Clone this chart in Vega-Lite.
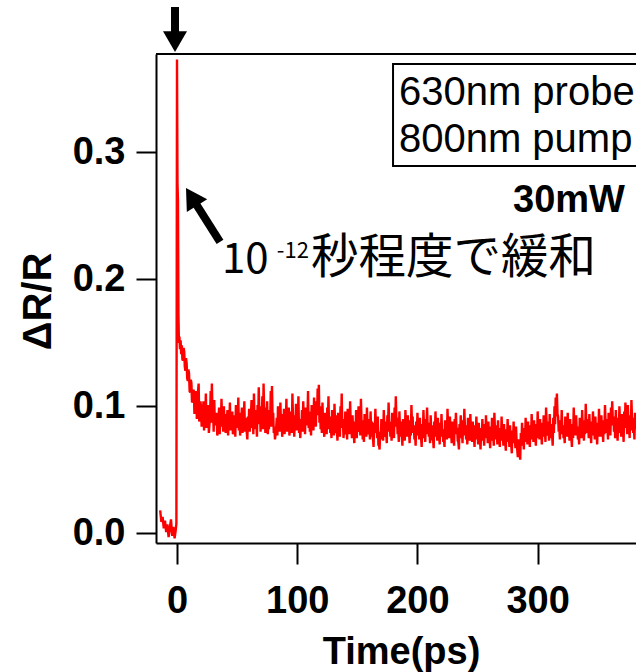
{
"$schema": "https://vega.github.io/schema/vega-lite/v6.json",
"width": 480, "height": 489,
"autosize": {"type": "none"},
"padding": {"left": 156, "top": 54, "right": 0, "bottom": 129},
"background": "white",
"config": {
 "view": {"stroke": null},
 "axis": {"domainColor": "black", "domainWidth": 2, "tickColor": "black", "tickWidth": 2, "grid": false,
  "labelColor": "black", "labelFont": "Liberation Sans", "labelFontWeight": "bold", "labelFontSize": 38,
  "titleColor": "black", "titleFont": "Liberation Sans", "titleFontWeight": "bold", "titleFontSize": 38}
},
"data": {"values": [
{"t":-14,"r":0.018},{"t":-13,"r":0.009},{"t":-12,"r":0.013},{"t":-11,"r":0.004},{"t":-10,"r":0.010},{"t":-9,"r":0.001},{"t":-8,"r":0.007},{"t":-7,"r":-0.003},{"t":-6,"r":0.004},{"t":-5,"r":0.011},{"t":-4,"r":-0.002},{"t":-3,"r":0.005},{"t":-2,"r":-0.004},{"t":-1,"r":0.003},{"t":-0.5,"r":0.008},
{"t":0,"r":0.373},{"t":0.4,"r":0.276},{"t":0.8,"r":0.262},{"t":1.2,"r":0.172},{"t":1.6,"r":0.150},{"t":2,"r":0.155},{"t":2.5,"r":0.145},{"t":3,"r":0.152},{"t":3.5,"r":0.141},{"t":4,"r":0.148},{"t":4.5,"r":0.137},{"t":5,"r":0.136},{"t":5.5,"r":0.146},{"t":6,"r":0.143},{"t":6.5,"r":0.131},{"t":7,"r":0.128},{"t":7.5,"r":0.138},{"t":8,"r":0.134},{"t":8.5,"r":0.122},{"t":9,"r":0.120},{"t":9.5,"r":0.129},{"t":10,"r":0.126},{"t":10.5,"r":0.112},{"t":11,"r":0.111},{"t":11.5,"r":0.121},{"t":12,"r":0.118},{"t":12.5,"r":0.103},{"t":13,"r":0.104},{"t":13.5,"r":0.113},{"t":14,"r":0.112},{"t":14.5,"r":0.094},{"t":15,"r":0.104},{"t":15.5,"r":0.108},{"t":16,"r":0.112},{"t":16.5,"r":0.090},{"t":17,"r":0.098},{"t":17.5,"r":0.112},{"t":18,"r":0.118},{"t":18.5,"r":0.088},{"t":19,"r":0.095},{"t":19.5,"r":0.104},
{"t":20,"r":0.099},{"t":21,"r":0.091},{"t":22,"r":0.104},{"t":23,"r":0.096},{"t":24,"r":0.110},{"t":25,"r":0.093},{"t":26,"r":0.101},{"t":27,"r":0.086},{"t":28,"r":0.112},{"t":29,"r":0.118},
{"t":30,"r":0.097},{"t":31,"r":0.105},{"t":32,"r":0.088},{"t":33,"r":0.095},{"t":34,"r":0.083},{"t":35,"r":0.099},{"t":36,"r":0.092},{"t":37,"r":0.106},{"t":38,"r":0.089},{"t":39,"r":0.100},
{"t":40,"r":0.094},{"t":41,"r":0.085},{"t":42,"r":0.097},{"t":43,"r":0.090},{"t":44,"r":0.103},{"t":45,"r":0.087},{"t":46,"r":0.096},{"t":47,"r":0.082},{"t":48,"r":0.093},{"t":49,"r":0.101},
{"t":50,"r":0.088},{"t":51,"r":0.107},{"t":52,"r":0.095},{"t":53,"r":0.084},{"t":54,"r":0.099},{"t":55,"r":0.091},{"t":56,"r":0.104},{"t":57,"r":0.086},{"t":58,"r":0.080},{"t":59,"r":0.092},
{"t":60,"r":0.098},{"t":61,"r":0.089},{"t":62,"r":0.105},{"t":63,"r":0.094},{"t":64,"r":0.110},{"t":65,"r":0.097},{"t":66,"r":0.088},{"t":67,"r":0.101},{"t":68,"r":0.115},{"t":69,"r":0.100},
{"t":70,"r":0.093},{"t":71,"r":0.108},{"t":72,"r":0.118},{"t":73,"r":0.099},{"t":74,"r":0.090},{"t":75,"r":0.104},{"t":76,"r":0.086},{"t":77,"r":0.097},{"t":78,"r":0.112},{"t":79,"r":0.116},
{"t":80,"r":0.095},{"t":81,"r":0.084},{"t":82,"r":0.078},{"t":83,"r":0.091},{"t":84,"r":0.100},{"t":85,"r":0.088},{"t":86,"r":0.103},{"t":87,"r":0.094},{"t":88,"r":0.085},{"t":89,"r":0.098},
{"t":90,"r":0.092},{"t":91,"r":0.106},{"t":92,"r":0.089},{"t":93,"r":0.099},{"t":94,"r":0.084},{"t":95,"r":0.096},{"t":96,"r":0.110},{"t":97,"r":0.093},{"t":98,"r":0.087},{"t":99,"r":0.102},
{"t":100,"r":0.095},{"t":101,"r":0.108},{"t":102,"r":0.090},{"t":103,"r":0.083},{"t":104,"r":0.097},{"t":105,"r":0.104},{"t":106,"r":0.088},{"t":107,"r":0.099},{"t":108,"r":0.092},{"t":109,"r":0.112},
{"t":110,"r":0.096},{"t":111,"r":0.086},{"t":112,"r":0.101},{"t":113,"r":0.093},{"t":114,"r":0.107},{"t":115,"r":0.098},{"t":116,"r":0.104},{"t":117,"r":0.114},{"t":118,"r":0.117},{"t":119,"r":0.100},
{"t":120,"r":0.091},{"t":121,"r":0.103},{"t":122,"r":0.085},{"t":123,"r":0.095},{"t":124,"r":0.088},{"t":125,"r":0.099},{"t":126,"r":0.108},{"t":127,"r":0.092},{"t":128,"r":0.084},{"t":129,"r":0.097},
{"t":130,"r":0.089},{"t":131,"r":0.102},{"t":132,"r":0.093},{"t":133,"r":0.081},{"t":134,"r":0.095},{"t":135,"r":0.087},{"t":136,"r":0.100},{"t":137,"r":0.110},{"t":138,"r":0.090},{"t":139,"r":0.082},
{"t":140,"r":0.096},{"t":141,"r":0.086},{"t":142,"r":0.098},{"t":143,"r":0.091},{"t":144,"r":0.104},{"t":145,"r":0.085},{"t":146,"r":0.093},{"t":147,"r":0.079},{"t":148,"r":0.088},{"t":149,"r":0.097},
{"t":150,"r":0.084},{"t":151,"r":0.100},{"t":152,"r":0.092},{"t":153,"r":0.106},{"t":154,"r":0.089},{"t":155,"r":0.081},{"t":156,"r":0.094},{"t":157,"r":0.086},{"t":158,"r":0.099},{"t":159,"r":0.090},
{"t":160,"r":0.083},{"t":161,"r":0.096},{"t":162,"r":0.088},{"t":163,"r":0.075},{"t":164,"r":0.087},{"t":165,"r":0.098},{"t":166,"r":0.084},{"t":167,"r":0.092},{"t":168,"r":0.070},{"t":169,"r":0.080},
{"t":170,"r":0.090},{"t":171,"r":0.085},{"t":172,"r":0.097},{"t":173,"r":0.088},{"t":174,"r":0.079},{"t":175,"r":0.093},{"t":176,"r":0.103},{"t":177,"r":0.087},{"t":178,"r":0.082},{"t":179,"r":0.095},
{"t":180,"r":0.086},{"t":181,"r":0.099},{"t":182,"r":0.108},{"t":183,"r":0.091},{"t":184,"r":0.083},{"t":185,"r":0.096},{"t":186,"r":0.088},{"t":187,"r":0.077},{"t":188,"r":0.090},{"t":189,"r":0.084},
{"t":190,"r":0.097},{"t":191,"r":0.087},{"t":192,"r":0.093},{"t":193,"r":0.080},{"t":194,"r":0.089},{"t":195,"r":0.101},{"t":196,"r":0.092},{"t":197,"r":0.085},{"t":198,"r":0.078},{"t":199,"r":0.088},
{"t":200,"r":0.095},{"t":201,"r":0.084},{"t":202,"r":0.091},{"t":203,"r":0.076},{"t":204,"r":0.086},{"t":205,"r":0.097},{"t":206,"r":0.082},{"t":207,"r":0.090},{"t":208,"r":0.099},{"t":209,"r":0.087},
{"t":210,"r":0.080},{"t":211,"r":0.093},{"t":212,"r":0.085},{"t":213,"r":0.074},{"t":214,"r":0.088},{"t":215,"r":0.096},{"t":216,"r":0.083},{"t":217,"r":0.091},{"t":218,"r":0.079},{"t":219,"r":0.087},
{"t":220,"r":0.094},{"t":221,"r":0.082},{"t":222,"r":0.076},{"t":223,"r":0.089},{"t":224,"r":0.084},{"t":225,"r":0.098},{"t":226,"r":0.086},{"t":227,"r":0.092},{"t":228,"r":0.080},{"t":229,"r":0.088},
{"t":230,"r":0.077},{"t":231,"r":0.090},{"t":232,"r":0.095},{"t":233,"r":0.083},{"t":234,"r":0.072},{"t":235,"r":0.086},{"t":236,"r":0.093},{"t":237,"r":0.081},{"t":238,"r":0.089},{"t":239,"r":0.098},
{"t":240,"r":0.085},{"t":241,"r":0.079},{"t":242,"r":0.091},{"t":243,"r":0.084},{"t":244,"r":0.094},{"t":245,"r":0.082},{"t":246,"r":0.088},{"t":247,"r":0.076},{"t":248,"r":0.085},{"t":249,"r":0.092},
{"t":250,"r":0.080},{"t":251,"r":0.087},{"t":252,"r":0.074},{"t":253,"r":0.083},{"t":254,"r":0.090},{"t":255,"r":0.079},{"t":256,"r":0.086},{"t":257,"r":0.093},{"t":258,"r":0.081},{"t":259,"r":0.088},
{"t":260,"r":0.076},{"t":261,"r":0.084},{"t":262,"r":0.091},{"t":263,"r":0.078},{"t":264,"r":0.095},{"t":265,"r":0.085},{"t":266,"r":0.080},{"t":267,"r":0.089},{"t":268,"r":0.077},{"t":269,"r":0.083},
{"t":270,"r":0.092},{"t":271,"r":0.079},{"t":272,"r":0.086},{"t":273,"r":0.073},{"t":274,"r":0.082},{"t":275,"r":0.090},{"t":276,"r":0.078},{"t":277,"r":0.085},{"t":278,"r":0.070},{"t":279,"r":0.081},
{"t":280,"r":0.088},{"t":281,"r":0.076},{"t":282,"r":0.084},{"t":283,"r":0.066},{"t":284,"r":0.074},{"t":285,"r":0.062},{"t":286,"r":0.079},{"t":287,"r":0.087},{"t":288,"r":0.075},{"t":289,"r":0.083},
{"t":290,"r":0.091},{"t":291,"r":0.080},{"t":292,"r":0.088},{"t":293,"r":0.077},{"t":294,"r":0.085},{"t":295,"r":0.094},{"t":296,"r":0.082},{"t":297,"r":0.089},{"t":298,"r":0.078},{"t":299,"r":0.086},
{"t":300,"r":0.096},{"t":301,"r":0.084},{"t":302,"r":0.090},{"t":303,"r":0.079},{"t":304,"r":0.087},{"t":305,"r":0.093},{"t":306,"r":0.081},{"t":307,"r":0.099},{"t":308,"r":0.088},{"t":309,"r":0.083},
{"t":310,"r":0.094},{"t":311,"r":0.086},{"t":312,"r":0.078},{"t":313,"r":0.091},{"t":314,"r":0.100},{"t":315,"r":0.107},{"t":316,"r":0.110},{"t":317,"r":0.092},{"t":318,"r":0.084},{"t":319,"r":0.089},
{"t":320,"r":0.097},{"t":321,"r":0.085},{"t":322,"r":0.080},{"t":323,"r":0.092},{"t":324,"r":0.087},{"t":325,"r":0.095},{"t":326,"r":0.082},{"t":327,"r":0.090},{"t":328,"r":0.076},{"t":329,"r":0.086},
{"t":330,"r":0.099},{"t":331,"r":0.088},{"t":332,"r":0.093},{"t":333,"r":0.084},{"t":334,"r":0.078},{"t":335,"r":0.091},{"t":336,"r":0.086},{"t":337,"r":0.097},{"t":338,"r":0.083},{"t":339,"r":0.089},
{"t":340,"r":0.102},{"t":341,"r":0.090},{"t":342,"r":0.085},{"t":343,"r":0.094},{"t":344,"r":0.080},{"t":345,"r":0.088},{"t":346,"r":0.096},{"t":347,"r":0.084},{"t":348,"r":0.092},{"t":349,"r":0.079},
{"t":350,"r":0.087},{"t":351,"r":0.098},{"t":352,"r":0.086},{"t":353,"r":0.093},{"t":354,"r":0.081},{"t":355,"r":0.089},{"t":356,"r":0.101},{"t":357,"r":0.090},{"t":358,"r":0.084},{"t":359,"r":0.095},
{"t":360,"r":0.088},{"t":361,"r":0.099},{"t":362,"r":0.104},{"t":363,"r":0.092},{"t":364,"r":0.085},{"t":365,"r":0.097},{"t":366,"r":0.083},{"t":367,"r":0.091},{"t":368,"r":0.100},{"t":369,"r":0.087},
{"t":370,"r":0.094},{"t":371,"r":0.082},{"t":372,"r":0.096},{"t":373,"r":0.103},{"t":374,"r":0.089},{"t":375,"r":0.101},{"t":376,"r":0.086},{"t":377,"r":0.093},{"t":378,"r":0.105},{"t":379,"r":0.090},
{"t":380,"r":0.084},{"t":381,"r":0.095},{"t":382,"r":0.088},
{"t":20.5,"r":0.084},{"t":21.5,"r":0.095},{"t":22.5,"r":0.081},{"t":23.5,"r":0.090},{"t":24.5,"r":0.083},{"t":25.5,"r":0.098},{"t":26.5,"r":0.079},{"t":27.5,"r":0.092},{"t":28.5,"r":0.087},{"t":29.5,"r":0.096},
{"t":30.5,"r":0.080},{"t":31.5,"r":0.085},{"t":32.5,"r":0.093},{"t":33.5,"r":0.077},{"t":34.5,"r":0.089},{"t":35.5,"r":0.078},{"t":36.5,"r":0.084},{"t":37.5,"r":0.091},{"t":38.5,"r":0.080},{"t":39.5,"r":0.086},
{"t":40.5,"r":0.079},{"t":41.5,"r":0.090},{"t":42.5,"r":0.077},{"t":43.5,"r":0.084},{"t":44.5,"r":0.081},{"t":45.5,"r":0.092},{"t":46.5,"r":0.078},{"t":47.5,"r":0.086},{"t":48.5,"r":0.076},{"t":49.5,"r":0.083},
{"t":50.5,"r":0.088},{"t":51.5,"r":0.081},{"t":52.5,"r":0.077},{"t":53.5,"r":0.090},{"t":54.5,"r":0.079},{"t":55.5,"r":0.085},{"t":56.5,"r":0.080},{"t":57.5,"r":0.091},{"t":58.5,"r":0.074},{"t":59.5,"r":0.083},
{"t":60.5,"r":0.080},{"t":61.5,"r":0.093},{"t":62.5,"r":0.083},{"t":63.5,"r":0.078},{"t":64.5,"r":0.089},{"t":65.5,"r":0.082},{"t":66.5,"r":0.076},{"t":67.5,"r":0.086},{"t":68.5,"r":0.094},{"t":69.5,"r":0.080},
{"t":70.5,"r":0.087},{"t":71.5,"r":0.082},{"t":72.5,"r":0.097},{"t":73.5,"r":0.079},{"t":74.5,"r":0.085},{"t":75.5,"r":0.078},{"t":76.5,"r":0.082},{"t":77.5,"r":0.089},{"t":78.5,"r":0.084},{"t":79.5,"r":0.092},
{"t":80.5,"r":0.079},{"t":81.5,"r":0.074},{"t":82.5,"r":0.083},{"t":83.5,"r":0.077},{"t":84.5,"r":0.088},{"t":85.5,"r":0.080},{"t":86.5,"r":0.086},{"t":87.5,"r":0.076},{"t":88.5,"r":0.082},{"t":89.5,"r":0.078},
{"t":90.5,"r":0.085},{"t":91.5,"r":0.080},{"t":92.5,"r":0.088},{"t":93.5,"r":0.077},{"t":94.5,"r":0.083},{"t":95.5,"r":0.079},{"t":96.5,"r":0.090},{"t":97.5,"r":0.076},{"t":98.5,"r":0.084},{"t":99.5,"r":0.081},
{"t":100.5,"r":0.086},{"t":101.5,"r":0.079},{"t":102.5,"r":0.075},{"t":103.5,"r":0.084},{"t":104.5,"r":0.080},{"t":105.5,"r":0.089},{"t":106.5,"r":0.078},{"t":107.5,"r":0.085},{"t":108.5,"r":0.091},{"t":109.5,"r":0.083},
{"t":110.5,"r":0.080},{"t":111.5,"r":0.077},{"t":112.5,"r":0.086},{"t":113.5,"r":0.081},{"t":114.5,"r":0.090},{"t":115.5,"r":0.084},{"t":116.5,"r":0.093},{"t":117.5,"r":0.098},{"t":118.5,"r":0.087},{"t":119.5,"r":0.082},
{"t":120.5,"r":0.079},{"t":121.5,"r":0.086},{"t":122.5,"r":0.076},{"t":123.5,"r":0.083},{"t":124.5,"r":0.078},{"t":125.5,"r":0.087},{"t":126.5,"r":0.082},{"t":127.5,"r":0.079},{"t":128.5,"r":0.075},{"t":129.5,"r":0.084},
{"t":130.5,"r":0.077},{"t":131.5,"r":0.085},{"t":132.5,"r":0.079},{"t":133.5,"r":0.073},{"t":134.5,"r":0.082},{"t":135.5,"r":0.076},{"t":136.5,"r":0.087},{"t":137.5,"r":0.083},{"t":138.5,"r":0.075},{"t":139.5,"r":0.078},
{"t":140.5,"r":0.081},{"t":141.5,"r":0.074},{"t":142.5,"r":0.084},{"t":143.5,"r":0.078},{"t":144.5,"r":0.086},{"t":145.5,"r":0.075},{"t":146.5,"r":0.080},{"t":147.5,"r":0.071},{"t":148.5,"r":0.079},{"t":149.5,"r":0.075},
{"t":150.5,"r":0.080},{"t":151.5,"r":0.083},{"t":152.5,"r":0.077},{"t":153.5,"r":0.088},{"t":154.5,"r":0.074},{"t":155.5,"r":0.072},{"t":156.5,"r":0.081},{"t":157.5,"r":0.076},{"t":158.5,"r":0.084},{"t":159.5,"r":0.078},
{"t":160.5,"r":0.074},{"t":161.5,"r":0.082},{"t":162.5,"r":0.077},{"t":163.5,"r":0.068},{"t":164.5,"r":0.079},{"t":165.5,"r":0.083},{"t":166.5,"r":0.075},{"t":167.5,"r":0.070},{"t":168.5,"r":0.066},{"t":169.5,"r":0.074},
{"t":170.5,"r":0.078},{"t":171.5,"r":0.073},{"t":172.5,"r":0.083},{"t":173.5,"r":0.076},{"t":174.5,"r":0.071},{"t":175.5,"r":0.080},{"t":176.5,"r":0.087},{"t":177.5,"r":0.076},{"t":178.5,"r":0.073},{"t":179.5,"r":0.081},
{"t":180.5,"r":0.075},{"t":181.5,"r":0.084},{"t":182.5,"r":0.090},{"t":183.5,"r":0.078},{"t":184.5,"r":0.072},{"t":185.5,"r":0.082},{"t":186.5,"r":0.077},{"t":187.5,"r":0.069},{"t":188.5,"r":0.078},{"t":189.5,"r":0.073},
{"t":190.5,"r":0.082},{"t":191.5,"r":0.076},{"t":192.5,"r":0.080},{"t":193.5,"r":0.071},{"t":194.5,"r":0.077},{"t":195.5,"r":0.085},{"t":196.5,"r":0.079},{"t":197.5,"r":0.074},{"t":198.5,"r":0.069},{"t":199.5,"r":0.077},
{"t":200.5,"r":0.081},{"t":201.5,"r":0.074},{"t":202.5,"r":0.079},{"t":203.5,"r":0.068},{"t":204.5,"r":0.075},{"t":205.5,"r":0.083},{"t":206.5,"r":0.072},{"t":207.5,"r":0.078},{"t":208.5,"r":0.084},{"t":209.5,"r":0.076},
{"t":210.5,"r":0.071},{"t":211.5,"r":0.080},{"t":212.5,"r":0.074},{"t":213.5,"r":0.067},{"t":214.5,"r":0.076},{"t":215.5,"r":0.082},{"t":216.5,"r":0.073},{"t":217.5,"r":0.079},{"t":218.5,"r":0.070},{"t":219.5,"r":0.076},
{"t":220.5,"r":0.080},{"t":221.5,"r":0.072},{"t":222.5,"r":0.068},{"t":223.5,"r":0.077},{"t":224.5,"r":0.074},{"t":225.5,"r":0.084},{"t":226.5,"r":0.075},{"t":227.5,"r":0.080},{"t":228.5,"r":0.071},{"t":229.5,"r":0.077},
{"t":230.5,"r":0.069},{"t":231.5,"r":0.078},{"t":232.5,"r":0.082},{"t":233.5,"r":0.073},{"t":234.5,"r":0.066},{"t":235.5,"r":0.075},{"t":236.5,"r":0.081},{"t":237.5,"r":0.071},{"t":238.5,"r":0.077},{"t":239.5,"r":0.084},
{"t":240.5,"r":0.074},{"t":241.5,"r":0.070},{"t":242.5,"r":0.079},{"t":243.5,"r":0.073},{"t":244.5,"r":0.081},{"t":245.5,"r":0.072},{"t":246.5,"r":0.077},{"t":247.5,"r":0.068},{"t":248.5,"r":0.074},{"t":249.5,"r":0.079},
{"t":250.5,"r":0.070},{"t":251.5,"r":0.076},{"t":252.5,"r":0.066},{"t":253.5,"r":0.073},{"t":254.5,"r":0.078},{"t":255.5,"r":0.069},{"t":256.5,"r":0.075},{"t":257.5,"r":0.080},{"t":258.5,"r":0.071},{"t":259.5,"r":0.076},
{"t":260.5,"r":0.067},{"t":261.5,"r":0.073},{"t":262.5,"r":0.079},{"t":263.5,"r":0.069},{"t":264.5,"r":0.081},{"t":265.5,"r":0.074},{"t":266.5,"r":0.070},{"t":267.5,"r":0.077},{"t":268.5,"r":0.068},{"t":269.5,"r":0.073},
{"t":270.5,"r":0.079},{"t":271.5,"r":0.069},{"t":272.5,"r":0.075},{"t":273.5,"r":0.065},{"t":274.5,"r":0.072},{"t":275.5,"r":0.078},{"t":276.5,"r":0.068},{"t":277.5,"r":0.074},{"t":278.5,"r":0.063},{"t":279.5,"r":0.071},
{"t":280.5,"r":0.076},{"t":281.5,"r":0.067},{"t":282.5,"r":0.072},{"t":283.5,"r":0.060},{"t":284.5,"r":0.065},{"t":285.5,"r":0.058},{"t":286.5,"r":0.069},{"t":287.5,"r":0.075},{"t":288.5,"r":0.066},{"t":289.5,"r":0.072},
{"t":290.5,"r":0.078},{"t":291.5,"r":0.070},{"t":292.5,"r":0.076},{"t":293.5,"r":0.068},{"t":294.5,"r":0.074},{"t":295.5,"r":0.081},{"t":296.5,"r":0.072},{"t":297.5,"r":0.077},{"t":298.5,"r":0.069},{"t":299.5,"r":0.075},
{"t":300.5,"r":0.082},{"t":301.5,"r":0.074},{"t":302.5,"r":0.079},{"t":303.5,"r":0.070},{"t":304.5,"r":0.076},{"t":305.5,"r":0.080},{"t":306.5,"r":0.072},{"t":307.5,"r":0.085},{"t":308.5,"r":0.077},{"t":309.5,"r":0.073},
{"t":310.5,"r":0.081},{"t":311.5,"r":0.075},{"t":312.5,"r":0.069},{"t":313.5,"r":0.079},{"t":314.5,"r":0.086},{"t":315.5,"r":0.092},{"t":316.5,"r":0.094},{"t":317.5,"r":0.080},{"t":318.5,"r":0.074},{"t":319.5,"r":0.078},
{"t":320.5,"r":0.083},{"t":321.5,"r":0.075},{"t":322.5,"r":0.071},{"t":323.5,"r":0.080},{"t":324.5,"r":0.076},{"t":325.5,"r":0.082},{"t":326.5,"r":0.073},{"t":327.5,"r":0.078},{"t":328.5,"r":0.068},{"t":329.5,"r":0.075},
{"t":330.5,"r":0.085},{"t":331.5,"r":0.077},{"t":332.5,"r":0.081},{"t":333.5,"r":0.074},{"t":334.5,"r":0.070},{"t":335.5,"r":0.079},{"t":336.5,"r":0.075},{"t":337.5,"r":0.083},{"t":338.5,"r":0.073},{"t":339.5,"r":0.078},
{"t":340.5,"r":0.087},{"t":341.5,"r":0.079},{"t":342.5,"r":0.075},{"t":343.5,"r":0.082},{"t":344.5,"r":0.071},{"t":345.5,"r":0.077},{"t":346.5,"r":0.083},{"t":347.5,"r":0.074},{"t":348.5,"r":0.080},{"t":349.5,"r":0.070},
{"t":350.5,"r":0.076},{"t":351.5,"r":0.084},{"t":352.5,"r":0.076},{"t":353.5,"r":0.081},{"t":354.5,"r":0.072},{"t":355.5,"r":0.078},{"t":356.5,"r":0.087},{"t":357.5,"r":0.079},{"t":358.5,"r":0.074},{"t":359.5,"r":0.082},
{"t":360.5,"r":0.077},{"t":361.5,"r":0.085},{"t":362.5,"r":0.089},{"t":363.5,"r":0.080},{"t":364.5,"r":0.075},{"t":365.5,"r":0.083},{"t":366.5,"r":0.073},{"t":367.5,"r":0.079},{"t":368.5,"r":0.086},{"t":369.5,"r":0.076},
{"t":370.5,"r":0.081},{"t":371.5,"r":0.072},{"t":372.5,"r":0.083},{"t":373.5,"r":0.088},{"t":374.5,"r":0.078},{"t":375.5,"r":0.086},{"t":376.5,"r":0.075},{"t":377.5,"r":0.081},{"t":378.5,"r":0.090},{"t":379.5,"r":0.079},
{"t":380.5,"r":0.074},{"t":381.5,"r":0.082}
]},
"encoding": {
 "x": {"field": "t", "type": "quantitative",
  "scale": {"domain": [-17.47, 381.8], "nice": false, "zero": false},
  "axis": {"values": [0, 100, 200, 300], "format": "d", "tickSize": 21, "labelPadding": 18, "title": "Time(ps)",
   "titleX": 245, "titleY": 120, "titleBaseline": "alphabetic", "titleAlign": "center"}},
 "y": {"field": "r", "type": "quantitative",
  "scale": {"domain": [-0.0076, 0.3774], "nice": false, "zero": false},
  "axis": {"values": [0, 0.1, 0.2, 0.3], "format": ".1f", "tickSize": 20, "labelPadding": 11, "title": "ΔR/R",
   "titleX": -106, "titleY": 247, "titleBaseline": "alphabetic", "titleAlign": "center", "titleAngle": -90, "titleFontSize": 40}}
},
"layer": [
 {"mark": {"type": "line", "color": "#ff0000", "strokeWidth": 2.4, "clip": true}},
 {"data": {"values": [{"t": -17.47, "t2": 381.8, "r": 0.3774}]},
  "mark": {"type": "rule", "color": "black", "strokeWidth": 2},
  "encoding": {"x2": {"field": "t2"}}},
 {"data": {"values": [{"t": 179.7, "t2": 420, "r": 0.3695, "r2": 0.2893}]},
  "mark": {"type": "rect", "fill": "white", "stroke": "black", "strokeWidth": 2, "clip": true},
  "encoding": {"x2": {"field": "t2"}, "y2": {"field": "r2"}}},
 {"data": {"values": [{"t": 184.6, "r": 0.3372, "label": "630nm probe"}, {"t": 184.6, "r": 0.3005, "label": "800nm pump"}]},
  "mark": {"type": "text", "align": "left", "baseline": "alphabetic", "font": "Liberation Sans", "fontSize": 40, "color": "black"},
  "encoding": {"text": {"field": "label"}}},
 {"data": {"values": [{"t": 372.6, "r": 0.2532, "label": "30mW"}]},
  "mark": {"type": "text", "align": "right", "baseline": "alphabetic", "font": "Liberation Sans", "fontWeight": "bold", "fontSize": 38, "color": "black"},
  "encoding": {"text": {"field": "label"}}},
 {"data": {"values": [{"t": 37.4, "r": 0.2049, "label": "10"}]},
  "mark": {"type": "text", "align": "left", "baseline": "alphabetic", "font": "Noto Sans CJK JP", "fontSize": 42, "color": "black"},
  "encoding": {"text": {"field": "label"}}},
 {"data": {"values": [{"t": 83.0, "r": 0.2168, "label": "-12"}]},
  "mark": {"type": "text", "align": "left", "baseline": "alphabetic", "font": "Noto Sans CJK JP", "fontSize": 22, "color": "black"},
  "encoding": {"text": {"field": "label"}}},
 {"data": {"values": [{"t": 111.5, "r": 0.2049, "label": "秒程度で緩和"}]},
  "mark": {"type": "text", "align": "left", "baseline": "alphabetic", "font": "Noto Sans CJK JP", "fontSize": 47.5, "color": "black"},
  "encoding": {"text": {"field": "label"}}},
 {"data": {"values": [{"t": 35.77, "r": 0.2294, "t2": 12.06, "r2": 0.2650}, {"t": -1.66, "r": 0.4144, "t2": -1.66, "r2": 0.3924}]},
  "mark": {"type": "rule", "color": "black", "strokeWidth": 8},
  "encoding": {"x2": {"field": "t2"}, "y2": {"field": "r2"}}},
 {"data": {"values": [{"t": 12.06, "r": 0.2650}]},
  "mark": {"type": "point", "shape": "triangle-up", "size": 576, "angle": 328, "filled": true, "color": "black", "opacity": 1},
  "encoding": {}},
 {"data": {"values": [{"t": -1.66, "r": 0.3872}]},
  "mark": {"type": "point", "shape": "triangle-down", "size": 576, "filled": true, "color": "black", "opacity": 1},
  "encoding": {}}
]
}
